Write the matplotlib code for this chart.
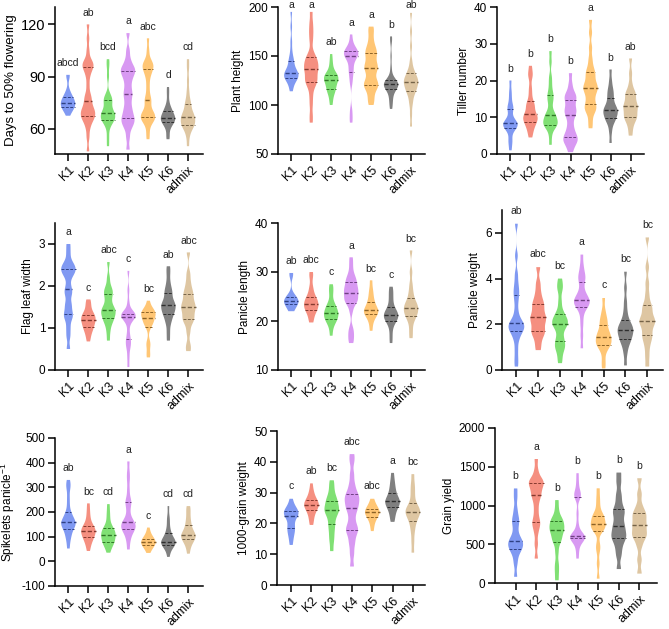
import numpy as np
import matplotlib
matplotlib.use('Agg')
import matplotlib.pyplot as plt
from matplotlib import cbook
from matplotlib.colors import to_rgb

plt.rcParams['font.family'] = ['Liberation Sans', 'DejaVu Sans']
plt.rcParams['mathtext.fontset'] = 'custom'
plt.rcParams['mathtext.rm'] = 'Liberation Sans'
plt.rcParams['mathtext.it'] = 'Liberation Sans:italic'
plt.rcParams['axes.unicode_minus'] = False

groups = ['K1', 'K2', 'K3', 'K4', 'K5', 'K6', 'admix']
colors = ['#5577ee', '#f26a55', '#55d645', '#cc77ee', '#ffb347', '#555555', '#d4b483']

# days to 50% flowering
flowering = [
    [67.5, 70, 71, 72, 72.5, 73, 74, 74.5, 75, 76, 77, 77.5, 78, 80, 82, 90, 91],
    [47, 55, 60, 63, 65, 66, 67, 68, 69, 70, 71, 72, 74, 76, 78, 80, 85, 90, 93, 95, 96, 97, 98, 100, 105, 112, 120],
    [50, 55, 60, 63, 64, 65, 65.5, 66, 67, 68, 68.5, 69, 70, 71, 73, 75, 76, 77, 78, 80, 90, 96, 100],
    [48, 55, 60, 62, 64, 65, 66, 68, 70, 72, 75, 78, 80, 82, 85, 88, 90, 92, 93, 94, 95, 97, 100, 105, 115],
    [54, 58, 62, 64, 65, 66, 66.5, 67, 68, 69, 70, 72, 75, 76.5, 78, 82, 86, 90, 92, 94, 95, 96, 97, 98, 100, 105, 112],
    [54, 56, 60, 62, 63, 64, 64.5, 65, 65.5, 66, 66.5, 67, 68, 69, 70, 71, 72, 75, 80, 84],
    [50, 55, 58, 60, 61, 62, 62.5, 63, 64, 65, 66, 66.5, 67, 68, 69, 70, 72, 74, 75, 78, 82, 88, 95, 100],
]
flowering_sig = ['abcd', 'ab', 'bcd', 'a', 'abc', 'd', 'cd']

height = [
    [114, 118, 122, 125, 126, 127, 128, 129, 130, 131, 132, 133, 134, 135, 137, 140, 143, 146, 148, 155, 165, 180, 195],
    [82, 90, 100, 108, 115, 120, 122, 124, 126, 128, 130, 133, 135, 137, 138, 140, 142, 144, 146, 148, 150, 155, 165, 172, 178, 185, 195],
    [100, 105, 110, 113, 115, 116, 118, 120, 122, 124, 125, 126, 127, 128, 129, 130, 131, 132, 135, 140, 145, 152],
    [82, 88, 95, 122, 128, 133, 136, 140, 144, 147, 149, 150, 151, 152, 153, 154, 155, 156, 158, 160, 165, 172],
    [100, 105, 110, 115, 118, 120, 121, 123, 126, 130, 134, 137, 138.5, 140, 143, 147, 150, 153, 155, 158, 162, 168, 175, 180],
    [96, 100, 104, 108, 110, 114, 116, 117, 117.5, 118, 119, 120, 121, 121.5, 122, 122.5, 123, 124, 125, 126, 130, 138, 150, 165, 170],
    [78, 90, 100, 105, 110, 113, 115, 116, 118, 120, 122, 123, 124, 125, 126, 128, 130, 132, 134, 138, 145, 160, 175, 194],
]
height_sig = ['a', 'a', 'ab', 'a', 'a', 'b', 'ab']

tillers = [
    [1, 3, 4, 6, 7, 7.3, 7.6, 8, 8, 8.3, 8.6, 9, 10, 12, 12.5, 13, 15, 17, 20],
    [4.5, 6, 7, 8, 8.3, 9, 9.5, 10, 10, 10.5, 11, 12, 13, 13.5, 14, 16, 18, 21, 22, 24],
    [2.5, 5, 7, 7.5, 8, 8, 8.5, 9, 9.5, 10, 10.5, 11, 12, 14, 15, 16, 17, 19, 21, 25, 28],
    [0.5, 2, 3, 3.5, 4, 4.5, 5, 6, 7, 8.5, 10, 11, 11.5, 12, 13, 14, 15, 15.5, 16, 17, 19, 22],
    [7, 9, 11, 12, 12.5, 13, 14, 15, 16, 17, 17.5, 18, 18.5, 19, 20, 21, 22, 22.5, 24, 26, 29, 33, 36.5],
    [3, 6, 8, 9, 9.5, 10, 10.5, 11, 11.5, 12, 12, 12.5, 13, 14, 15, 16, 17, 18, 20, 23],
    [5, 7, 8.5, 9.5, 10, 10.3, 11, 12, 12.5, 13, 13.3, 14, 15, 16, 16.5, 17, 19, 22, 26],
]
tillers_sig = ['b', 'b', 'b', 'b', 'a', 'b', 'ab']

leaf_width = [
    [0.5, 0.8, 1.0, 1.2, 1.3, 1.35, 1.5, 1.6, 1.8, 1.87, 2.0, 2.2, 2.3, 2.35, 2.4, 2.45, 2.5, 2.6, 2.8, 3.0],
    [0.68, 0.8, 0.9, 0.97, 1.0, 1.05, 1.1, 1.15, 1.17, 1.2, 1.25, 1.28, 1.3, 1.32, 1.4, 1.5, 1.6, 1.68],
    [0.7, 0.9, 1.05, 1.15, 1.2, 1.25, 1.3, 1.35, 1.4, 1.42, 1.45, 1.5, 1.6, 1.7, 1.8, 1.85, 1.9, 2.0, 2.2, 2.57],
    [0.07, 0.3, 0.5, 0.6, 0.68, 0.75, 0.9, 1.1, 1.2, 1.25, 1.27, 1.28, 1.3, 1.32, 1.33, 1.35, 1.4, 1.6, 1.9, 2.36],
    [0.3, 0.4, 0.6, 0.65, 1.0, 1.1, 1.13, 1.15, 1.2, 1.28, 1.3, 1.32, 1.35, 1.38, 1.4, 1.42, 1.5, 1.65],
    [0.7, 0.9, 1.1, 1.2, 1.3, 1.35, 1.4, 1.45, 1.5, 1.55, 1.58, 1.6, 1.7, 1.8, 1.87, 1.95, 2.1, 2.3, 2.47],
    [0.45, 0.6, 0.9, 1.1, 1.2, 1.22, 1.3, 1.4, 1.45, 1.5, 1.55, 1.6, 1.7, 1.78, 1.85, 1.95, 2.1, 2.3, 2.8],
]
leaf_width_sig = ['a', 'c', 'abc', 'c', 'bc', 'ab', 'abc']

panicle_len = [
    [22, 22.5, 23, 23.5, 23.8, 24, 24, 24.2, 24.5, 25, 25.3, 29.3, 29.8],
    [19.7, 20.5, 21.5, 22, 22.3, 22.7, 23, 23.3, 23.5, 24, 24.3, 24.6, 25, 26, 27, 29, 30],
    [17, 18.5, 19.5, 20, 20.3, 20.5, 21, 21.3, 21.5, 21.8, 22, 22.5, 23, 23.2, 24, 25.5, 26.5, 27.5],
    [15.5, 16.5, 17.5, 18.5, 22, 23.5, 24, 24.2, 24.4, 25, 25.5, 26, 26.2, 26.5, 27, 27.5, 28.2, 28.4, 29, 30, 31.5, 33],
    [18, 19.5, 20.5, 21, 21.5, 21.7, 22, 22, 22.3, 22.7, 23.3, 23.8, 24.5, 25.5, 26.5, 28.3],
    [15.5, 17, 18.5, 19.5, 20, 20.3, 20.6, 21, 21, 21.3, 21.7, 22, 22.3, 23, 24, 25, 26, 27],
    [16.5, 18, 19.5, 20.5, 21, 21.3, 21.8, 22.2, 22.5, 22.8, 23.2, 23.7, 24, 25, 26, 27.5, 30, 34.4],
]
panicle_len_sig = ['ab', 'abc', 'c', 'a', 'bc', 'c', 'bc']

panicle_wt = [
    [0.15, 0.5, 0.9, 1.3, 1.5, 1.7, 1.75, 1.8, 1.9, 2.0, 2.05, 2.1, 2.3, 2.6, 3.0, 3.3, 3.5, 3.8, 4.2, 5.0, 6.4],
    [0.87, 1.2, 1.5, 1.65, 1.7, 1.9, 2.1, 2.2, 2.3, 2.4, 2.6, 2.8, 2.9, 3.1, 3.4, 3.8, 4.5],
    [0.3, 0.6, 0.9, 1.0, 1.1, 1.3, 1.4, 1.7, 1.9, 2.0, 2.0, 2.1, 2.2, 2.3, 2.4, 2.6, 3.0, 3.5, 3.7, 4.0],
    [0.95, 1.5, 2.0, 2.4, 2.7, 2.8, 2.85, 2.9, 3.0, 3.05, 3.1, 3.2, 3.3, 3.5, 3.8, 4.0, 4.1, 4.3, 4.6, 5.05],
    [0.07, 0.4, 0.8, 1.0, 1.1, 1.15, 1.2, 1.3, 1.4, 1.5, 1.55, 1.65, 1.8, 2.0, 2.15, 2.3, 2.6, 3.15],
    [0.2, 0.7, 1.0, 1.2, 1.3, 1.4, 1.5, 1.6, 1.7, 1.75, 1.8, 1.9, 2.0, 2.1, 2.3, 2.6, 3.0, 3.6, 4.3],
    [0.15, 0.6, 1.0, 1.3, 1.45, 1.6, 1.8, 2.0, 2.1, 2.15, 2.2, 2.4, 2.6, 2.75, 2.9, 3.3, 3.8, 4.5, 5.8],
]
panicle_wt_sig = ['ab', 'abc', 'bc', 'a', 'c', 'bc', 'bc']

spikelets = [
    [52, 80, 100, 110, 125, 133, 140, 148, 152, 155, 158, 162, 170, 180, 190, 200, 230, 260, 295, 310, 330],
    [42, 65, 80, 90, 97, 105, 112, 118, 122, 128, 133, 137, 145, 160, 180, 205, 235],
    [35, 55, 68, 75, 78, 85, 95, 102, 105, 110, 118, 125, 128, 135, 150, 175, 200, 232],
    [48, 80, 100, 115, 125, 130, 135, 142, 148, 152, 158, 165, 180, 205, 230, 240, 255, 290, 330, 360, 405],
    [34, 50, 60, 65, 68, 72, 76, 78, 80, 85, 88, 92, 100, 115, 137],
    [18, 40, 55, 63, 66, 70, 74, 77, 79, 80, 84, 90, 98, 110, 118, 135, 160, 180, 224],
    [31, 55, 70, 80, 88, 92, 97, 102, 106, 108, 112, 120, 130, 143, 155, 170, 190, 210, 224],
]
spikelets_sig = ['ab', 'bc', 'cd', 'a', 'c', 'cd', 'cd']

grain_wt = [
    [13, 15, 16.5, 17.5, 18.5, 19, 20.5, 22, 22.5, 23, 23, 23.5, 24, 24.3, 25, 26, 28],
    [19.5, 21, 22.5, 23.5, 24.5, 25, 25.5, 26, 26, 26.5, 27, 27.5, 28, 29.5, 30.5, 33],
    [11, 14, 16, 18, 19.5, 21, 22.5, 23.5, 24, 24.5, 25, 26, 27, 27.5, 28.5, 30, 32, 34],
    [6, 10, 13, 15, 17, 17.8, 18.5, 20, 22, 24, 25, 26, 27, 28, 28.7, 29.5, 31, 33, 36, 40, 42.5],
    [17.5, 19.5, 21, 22, 22.5, 23, 23.5, 23.7, 24, 24.3, 24.7, 25.5, 26.5, 28],
    [20.5, 22, 23.5, 24.5, 25.3, 26, 26.5, 27, 27.2, 27.5, 28, 29, 30, 31, 32.5, 34, 36.4],
    [10.5, 14, 17, 19, 20.5, 21.5, 22.5, 23, 23.4, 24, 24.5, 25, 25.6, 27, 29, 31, 33, 36],
]
grain_wt_sig = ['c', 'ab', 'bc', 'abc', 'abc', 'a', 'bc']

grain_yield = [
    [80, 250, 350, 420, 440, 470, 500, 530, 545, 580, 650, 740, 800, 850, 950, 1100, 1220],
    [315, 500, 650, 750, 770, 850, 950, 1050, 1120, 1150, 1200, 1250, 1280, 1300, 1320, 1350, 1450, 1600],
    [35, 150, 250, 400, 530, 550, 600, 650, 680, 700, 720, 760, 800, 810, 850, 950, 1070],
    [315, 420, 500, 550, 570, 580, 590, 598, 602, 610, 650, 750, 900, 1100, 1130, 1140, 1200, 1300, 1417],
    [56, 250, 420, 500, 670, 690, 710, 740, 760, 780, 820, 850, 870, 900, 1000, 1100, 1222],
    [180, 350, 450, 530, 585, 600, 650, 700, 740, 800, 870, 930, 950, 1050, 1150, 1300, 1425],
    [121, 300, 480, 580, 610, 640, 700, 745, 780, 840, 890, 910, 1000, 1150, 1352],
]
grain_yield_sig = ['b', 'a', 'b', 'b', 'b', 'b', 'b']

W, H = 669, 629

# data, letters, y label, ylim, yticks, box (left, top, right, bottom) in px, xlim, tick font size
panels = [
    (flowering, flowering_sig, 'Days to 50% flowering', (45.5, 130), [60, 90, 120],
     (55, 7, 203, 154), (0.35, 7.75), 10.5),
    (height, height_sig, 'Plant height', (50, 200), [50, 100, 150, 200],
     (278, 7, 425, 154), (0.335, 7.7), 8.5),
    (tillers, tillers_sig, 'Tiller number', (0, 40), [0, 10, 20, 30, 40],
     (497, 7, 644, 154), (0.33, 7.67), 8.5),
    (leaf_width, leaf_width_sig, 'Flag leaf width', (0, 3.5), [0, 1, 2, 3],
     (55, 223, 203, 370), (0.33, 7.73), 8.5),
    (panicle_len, panicle_len_sig, 'Panicle length', (10, 40), [10, 20, 30, 40],
     (278, 223, 425, 370), (0.335, 7.7), 8.5),
    (panicle_wt, panicle_wt_sig, 'Panicle weight', (0, 7), [0, 2, 4, 6],
     (502, 210, 663, 370), (0.34, 7.72), 8.5),
    (spikelets, spikelets_sig, 'Spikelets panicle$^{-1}$', (-100, 500), [-100, 0, 100, 200, 300, 400, 500],
     (55, 438, 203, 586), (0.33, 7.73), 8.5),
    (grain_wt, grain_wt_sig, '1000-grain weight', (0, 50), [0, 10, 20, 30, 40, 50],
     (277, 431, 425, 585), (0.3, 7.6), 8.5),
    (grain_yield, grain_yield_sig, 'Grain yield', (0, 2000), [0, 500, 1000, 1500, 2000],
     (495, 428, 657, 583), (0.0, 7.85), 8.5),
]


def gauss_kde(bw):
    def f(x, coords):
        x = np.asarray(x, dtype=float)
        return np.exp(-0.5 * ((coords[:, None] - x[None, :]) / bw) ** 2).sum(axis=1)
    return f


fig = plt.figure(figsize=(W / 100, H / 100), dpi=100)
pos = np.arange(1, 8)
vw = 0.72

for data, sig, ylabel, ylim, yticks, box, xlim, tfs in panels:
    l, t, r, b = box
    ax = fig.add_axes([l / W, 1 - b / H, (r - l) / W, (b - t) / H])
    yr = ylim[1] - ylim[0]
    stats = cbook.violin_stats(data, gauss_kde(0.03 * yr), points=300)
    parts = ax.violin(stats, positions=pos, widths=vw, showmeans=False,
                      showextrema=False, showmedians=False)
    for body, c in zip(parts['bodies'], colors):
        body.set_facecolor(c)
        body.set_edgecolor('none')
        body.set_alpha(0.75)

    for i, (d, st, c) in enumerate(zip(data, stats, colors)):
        dark = np.array(to_rgb(c)) * 0.55
        q1, med, q3 = np.percentile(d, [25, 50, 75])
        vmax = st['vals'].max()
        for q, lw in ((q1, 0.7), (med, 1.0), (q3, 0.7)):
            hw = 0.5 * vw * np.interp(q, st['coords'], st['vals']) / vmax
            ax.plot([pos[i] - hw, pos[i] + hw], [q, q], color=dark, lw=lw,
                    ls=(0, (3, 1.5)))
        ly = min(max(d) + 0.08 * yr, ylim[1] + 0.015 * yr)
        ax.text(pos[i], ly, sig[i], ha='center', va='center',
                fontsize=7.5, color='#222222', clip_on=False)

    ax.set_xlim(*xlim)
    ax.set_ylim(*ylim)
    ax.set_yticks(yticks)
    ax.set_xticks(pos)
    ax.set_xticklabels(groups, rotation=45, ha='right', rotation_mode='anchor',
                       fontsize=9)
    ax.tick_params(axis='y', labelsize=tfs, length=5, width=1.1, pad=2)
    ax.tick_params(axis='x', length=5, width=1.1, pad=2)
    ax.set_ylabel(ylabel, fontsize=9.5 if tfs > 9 else 8.5, labelpad=3)
    for s in ('top', 'right'):
        ax.spines[s].set_visible(False)
    for s in ('left', 'bottom'):
        ax.spines[s].set_linewidth(1.1)

fig.savefig('out.png', dpi=100)
